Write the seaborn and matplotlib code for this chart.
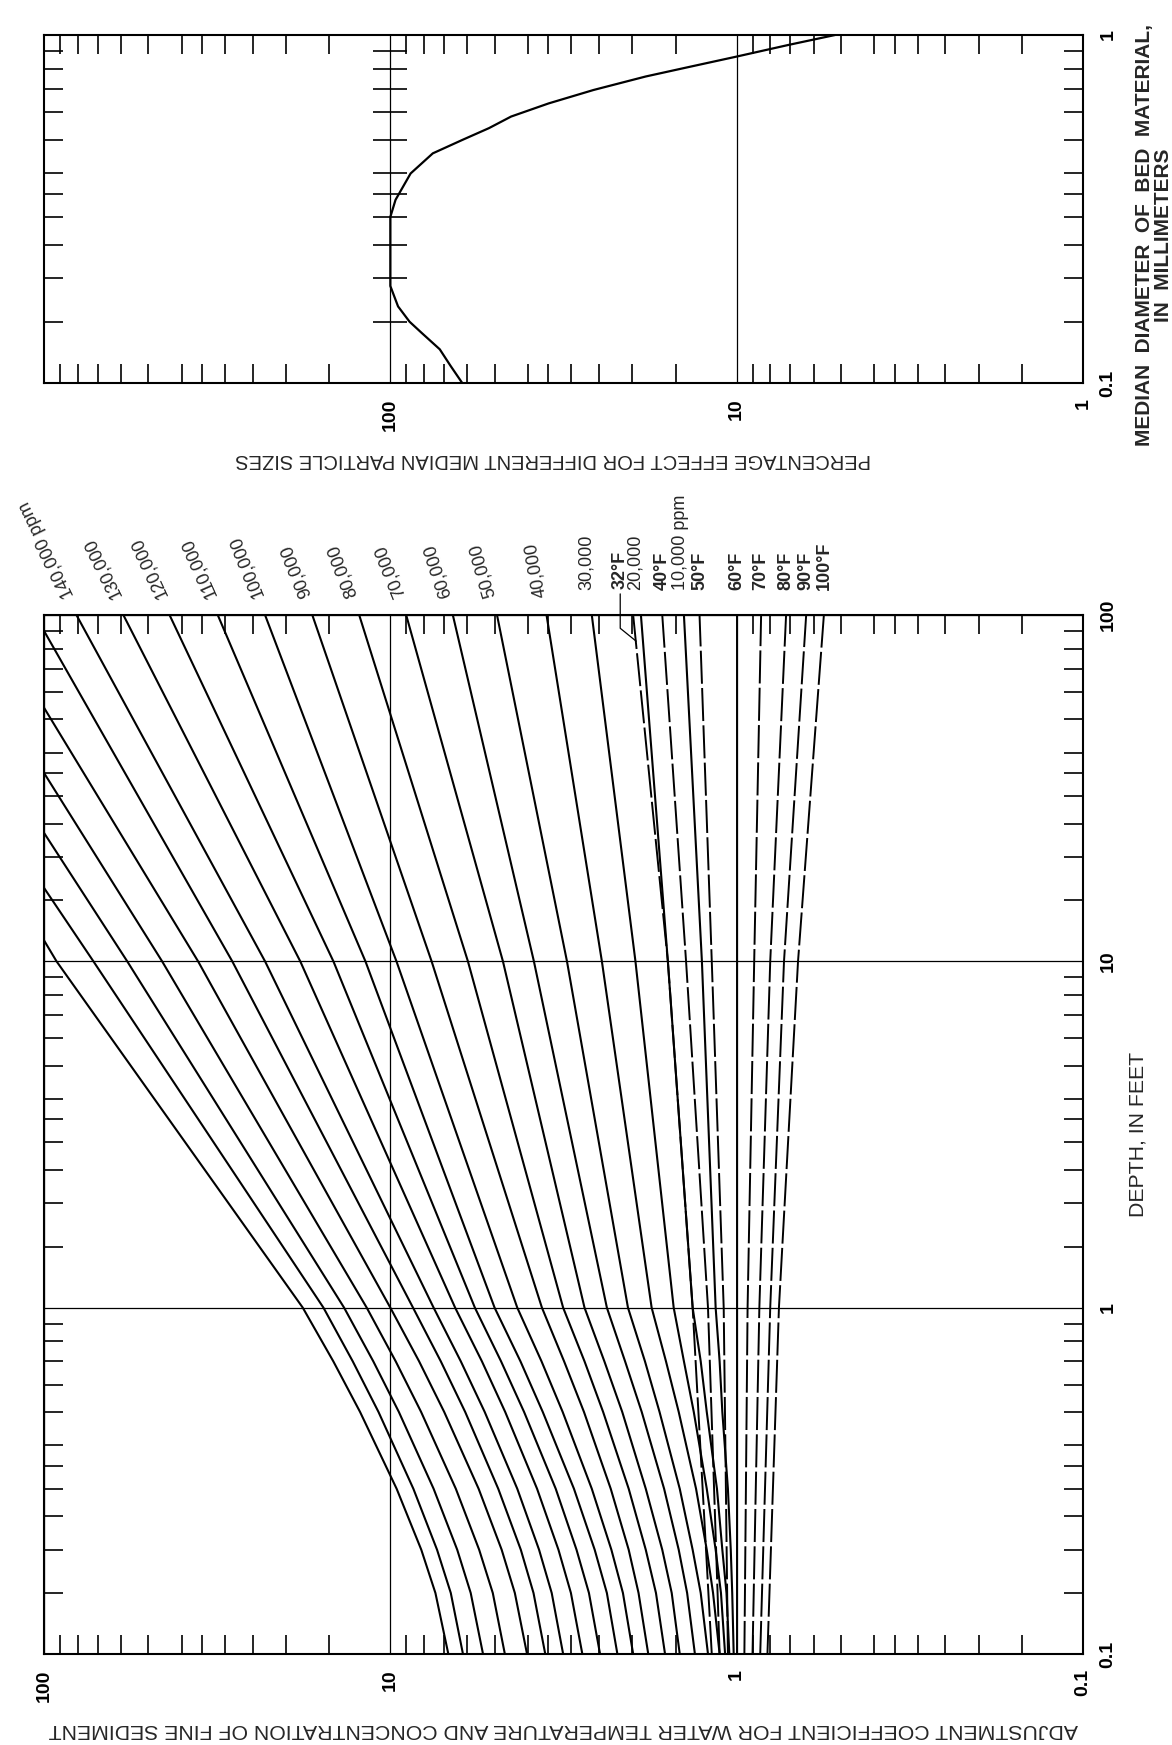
import matplotlib
matplotlib.use("Agg")
import matplotlib.pyplot as plt
from matplotlib.ticker import NullFormatter
import pandas as pd
import seaborn as sns

sns.set_theme(style="white")
plt.rcParams['font.family'] = ['Liberation Sans', 'DejaVu Sans']
plt.rcParams['axes.edgecolor'] = 'black'
plt.rcParams['axes.linewidth'] = 1.5

W, H, DPI = 1172, 1745, 100
PX = 72.0 / DPI  # points per pixel

# ---------------- main chart data (adjustment coefficient vs depth) ----------------
conc_labels = ["", "", "", "", "", "",
               "140,000 ppm", "130,000", "120,000", "110,000", "100,000", "90,000",
               "80,000", "70,000", "60,000", "50,000", "40,000", "30,000", "20,000",
               "10,000 ppm"]
conc_label_rot = [0, 0, 0, 0, 0, 0, 116, 116, 115, 114, 112, 112, 111, 112, 108, 106, 100,
                  90, 90, 90]
conc_label_dx = [0, 0, 0, 0, 0, 0, -6, -6, -6, -6, -6, -6, -6, -6, -6, -6, -6, -5, -6, -3]

depth_grid = [0.1, 0.15, 0.2, 0.3, 0.5, 0.7, 1.0, 10.0]
coef_d010 = [6.8, 6.17, 5.40, 4.67, 4.03, 3.57, 3.17, 2.79, 2.48, 2.21,
             1.99, 1.80, 1.61, 1.46, 1.32, 1.21, 1.12, 1.08, 1.05, 1.02]
coef_d015 = [7.41, 6.69, 5.86, 5.06, 4.37, 3.86, 3.42, 3.01, 2.67, 2.37,
             2.13, 1.92, 1.71, 1.54, 1.39, 1.27, 1.17, 1.11, 1.07, 1.03]
coef_d020 = [8.14, 7.33, 6.41, 5.54, 4.77, 4.20, 3.72, 3.27, 2.90, 2.57,
             2.30, 2.05, 1.83, 1.64, 1.47, 1.34, 1.22, 1.15, 1.10, 1.04]
coef_d030 = [9.59, 8.58, 7.50, 6.47, 5.56, 4.88, 4.30, 3.77, 3.33, 2.95,
             2.62, 2.31, 2.05, 1.83, 1.62, 1.46, 1.31, 1.22, 1.14, 1.06]
coef_d050 = [12.23, 10.82, 9.45, 8.15, 6.99, 6.08, 5.34, 4.66, 4.11, 3.63,
             3.18, 2.76, 2.43, 2.14, 1.88, 1.67, 1.47, 1.33, 1.22, 1.10]
coef_d070 = [14.61, 12.84, 11.20, 9.65, 8.26, 7.15, 6.26, 5.44, 4.79, 4.21,
             3.66, 3.15, 2.75, 2.41, 2.10, 1.84, 1.60, 1.42, 1.27, 1.12]
coef_d1 = [17.9, 15.6, 13.6, 11.7, 10.0, 8.6, 7.5, 6.5, 5.7, 5.0,
           4.3, 3.65, 3.17, 2.75, 2.37, 2.06, 1.76, 1.52, 1.34, 1.15]
coef_d10 = [92, 72, 57.5, 45.6, 35.9, 28.6, 23.0, 18.2, 14.6, 11.8,
            9.6, 7.6, 5.97, 4.73, 3.85, 3.09, 2.45, 1.96, 1.58, 1.26]
# where each line leaves the chart (left edge at 100, or top edge at depth 100)
conc_end_depth = [11.5, 16.3, 23.5, 35, 54, 90, 100, 100, 100, 100,
                  100, 100, 100, 100, 100, 100, 100, 100, 100, 100]
conc_end_coef = [100, 100, 100, 100, 100, 100, 80.6, 59, 43.4, 31.5,
                 23, 16.8, 12.3, 9.0, 6.6, 4.92, 3.54, 2.62, 1.89, 1.42]

temp_labels = ["32°F", "40°F", "50°F", "60°F", "70°F", "80°F", "90°F", "100°F"]
temp_kind = ["dashed", "dashed", "dashed", "solid", "dashed", "dashed", "dashed", "dashed"]
temp_depths = [0.1, 1.0, 10.0, 100.0]
temp_d010 = [1.18, 1.12, 1.06, 1.0, 0.95, 0.90, 0.855, 0.815]
temp_d1 = [1.34, 1.21, 1.09, 1.0, 0.93, 0.86, 0.80, 0.755]
temp_d10 = [1.58, 1.40, 1.18, 1.0, 0.89, 0.80, 0.73, 0.665]
temp_d100 = [1.99, 1.64, 1.28, 1.0, 0.85, 0.72, 0.63, 0.56]

# ---------------- top chart data (percentage effect vs median diameter) ----------------
bed_diam_mm = [0.1, 0.112, 0.125, 0.139, 0.15, 0.166, 0.19, 0.3, 0.336, 0.4, 0.457, 0.5,
               0.54, 0.583, 0.636, 0.695, 0.76, 0.811, 0.867, 0.936, 1.0]
size_effect_pct = [62, 67, 72, 81, 88, 95, 100, 100, 96.6, 87.4, 75.4, 61.8,
                   51.9, 44.8, 34.9, 25.9, 18.3, 13.6, 10.0, 7.1, 5.2]

# ---------------- build tables ----------------
grid_cols = [coef_d010, coef_d015, coef_d020, coef_d030, coef_d050, coef_d070, coef_d1, coef_d10]
rows = []
for i in range(len(conc_labels)):
    for d, col in zip(depth_grid, grid_cols):
        rows.append((i, d, col[i]))
    rows.append((i, conc_end_depth[i], conc_end_coef[i]))
conc_df = pd.DataFrame(rows, columns=["line", "depth", "coef"])

trows = []
temp_cols = [temp_d010, temp_d1, temp_d10, temp_d100]
for j in range(len(temp_labels)):
    for d, col in zip(temp_depths, temp_cols):
        trows.append((j, d, col[j], temp_kind[j]))
temp_df = pd.DataFrame(trows, columns=["line", "depth", "coef", "kind"])

size_df = pd.DataFrame({"diam": bed_diam_mm, "effect": size_effect_pct})

# ---------------- figure ----------------
fig = plt.figure(figsize=(W / DPI, H / DPI), dpi=DPI)
fig.patch.set_facecolor("white")
L, R = 44, 1083
ax = fig.add_axes([L / W, (H - 1654) / H, (R - L) / W, (1654 - 615) / H])
axt = fig.add_axes([L / W, (H - 383) / H, (R - L) / W, (383 - 35) / H])

mult = [1.5, 2, 2.5, 3, 3.5, 4, 5, 6, 7, 8, 9]


def minor_positions(lo_exp, hi_exp):
    return [m * 10.0 ** e for e in range(lo_exp, hi_exp) for m in mult]


def style_axes(a, xmaj, xlab, ymaj, ylab, xmin, ymin):
    a.set_xscale("log")
    a.set_yscale("log")
    a.set_xticks(xmaj, labels=xlab)
    a.set_yticks(ymaj, labels=ylab)
    a.set_xticks(xmin, minor=True)
    a.set_yticks(ymin, minor=True)
    a.xaxis.set_minor_formatter(NullFormatter())
    a.yaxis.set_minor_formatter(NullFormatter())
    a.tick_params(which="minor", direction="in", length=14, width=1.2, color="black",
                  top=True, bottom=True, left=True, right=True)
    a.tick_params(which="major", length=0, top=True, bottom=True, left=True, right=True)
    a.tick_params(axis="x", which="major", labelbottom=True, labeltop=False,
                  labelrotation=90, pad=11, labelsize=14, labelcolor="black")
    a.tick_params(axis="y", which="major", labelleft=False, labelright=True,
                  labelrotation=90, pad=12, labelsize=14, labelcolor="black")
    for t in a.get_xticklabels() + a.get_yticklabels():
        t.set_fontweight("bold")
    for t in a.get_yticklabels():
        t.set_va("center")
    for s in a.spines.values():
        s.set_color("black")
        s.set_linewidth(1.5)
    a.set_xlabel("")
    a.set_ylabel("")


# ----- main chart -----
ax.set_xscale("log")
ax.set_yscale("log")
sns.lineplot(data=conc_df, x="coef", y="depth", units="line", estimator=None, sort=False,
             color="black", linewidth=1.5, ax=ax, legend=False)
sns.lineplot(data=temp_df, x="coef", y="depth", units="line", style="kind",
             dashes={"solid": "", "dashed": (17, 2.2)}, estimator=None, sort=False,
             color="black", linewidth=1.4, ax=ax, legend=False)
style_axes(ax, [100, 10, 1, 0.1], ["100", "10", "1", "0.1"],
           [0.1, 1, 10, 100], ["0.1", "1", "10", "100"],
           minor_positions(-1, 2), minor_positions(-1, 2))
ax.set_xlim(100, 0.1)
ax.set_ylim(0.1, 100)
ax.grid(True, which="major", color="black", linewidth=0.9)
ax.grid(False, which="minor")

# concentration labels
for i, lab in enumerate(conc_labels):
    if not lab:
        continue
    rot = conc_label_rot[i]
    dy = 25 if rot == 90 else 18
    ax.annotate(lab, xy=(conc_end_coef[i], conc_end_depth[i]),
                xytext=(conc_label_dx[i] * PX, dy * PX),
                textcoords="offset points", rotation=rot, rotation_mode="anchor",
                ha="left", va="center", fontsize=13, annotation_clip=False)

# temperature labels
for j, lab in enumerate(temp_labels):
    if j == 0:
        ax.annotate(lab, xy=(1.95, 84), xytext=(-16 * PX, 52 * PX),
                    textcoords="offset points", rotation=90, rotation_mode="anchor",
                    ha="left", va="center", fontsize=13, fontweight="bold",
                    annotation_clip=False,
                    arrowprops=dict(arrowstyle="-", color="black", lw=0.9, shrinkA=1, shrinkB=0,
                                    connectionstyle="angle,angleA=90,angleB=141,rad=0"))
        continue
    ax.annotate(lab, xy=(temp_d100[j], 100), xytext=(0, 25 * PX),
                textcoords="offset points", rotation=90, rotation_mode="anchor",
                ha="left", va="center", fontsize=13, fontweight="bold",
                annotation_clip=False)

# ----- top chart -----
axt.set_xscale("log")
axt.set_yscale("log")
sns.lineplot(data=size_df, x="effect", y="diam", estimator=None, sort=False,
             color="black", linewidth=1.6, ax=axt, legend=False)
style_axes(axt, [100, 10, 1], ["100", "10", "1"], [0.1, 1], ["0.1", "1"],
           minor_positions(0, 3), minor_positions(-1, 0))
axt.set_xlim(1000, 1)
axt.set_ylim(0.1, 1)
axt.grid(True, axis="x", which="major", color="black", linewidth=0.9)
axt.grid(False, axis="y")
axt.grid(False, which="minor")
dmin = minor_positions(-1, 0)
axt.plot([100] * len(dmin), dmin, ls="none", marker="_", ms=24, mew=1.2, color="black")

# ----- axis titles (rotated, as in the page layout) -----
fig.text(563 / W, 1 - 1730 / H,
         "ADJUSTMENT COEFFICIENT FOR WATER TEMPERATURE AND CONCENTRATION OF FINE SEDIMENT",
         rotation=180, ha="center", va="center", fontsize=15.3)
fig.text(1138 / W, 1 - 1134 / H, "DEPTH, IN FEET", rotation=90, ha="center", va="center",
         fontsize=15.3)
fig.text(553 / W, 1 - 460 / H, "PERCENTAGE EFFECT FOR DIFFERENT MEDIAN PARTICLE SIZES",
         rotation=180, ha="center", va="center", fontsize=14.5)
fig.text(1154 / W, 1 - 235 / H, "MEDIAN  DIAMETER  OF  BED  MATERIAL,\nIN  MILLIMETERS",
         rotation=90, ha="center", va="center", multialignment="center",
         fontsize=15, fontweight="bold", linespacing=1.05)

fig.savefig("out.png", dpi=DPI, facecolor="white")
